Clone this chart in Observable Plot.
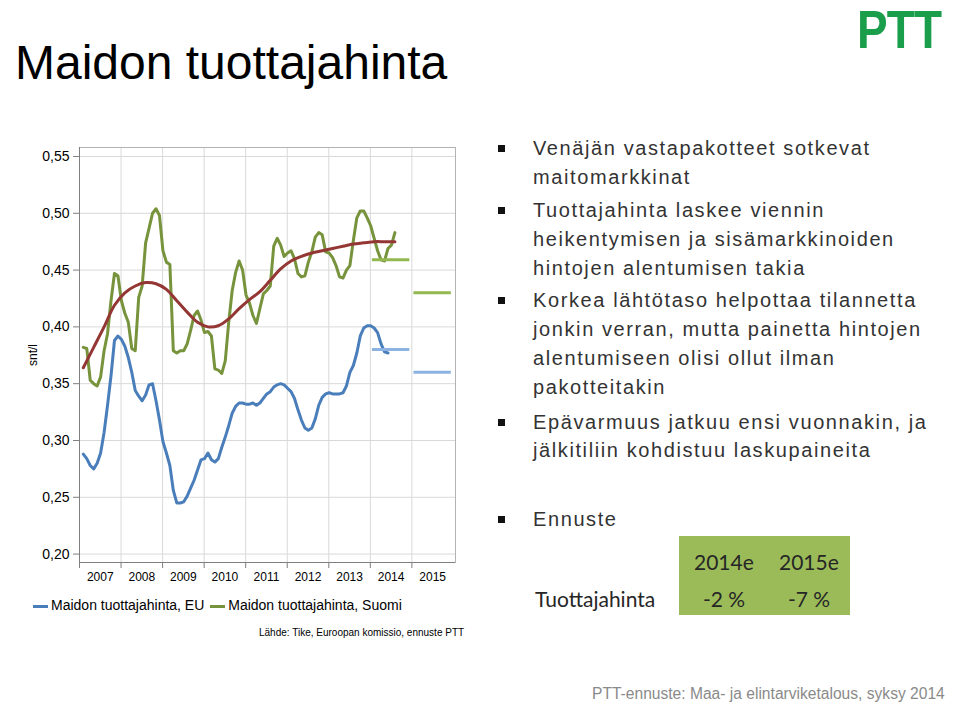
<!DOCTYPE html>
<html>
<head>
<meta charset="utf-8">
<script src="https://cdn.jsdelivr.net/npm/d3@7"></script>
<script src="https://cdn.jsdelivr.net/npm/@observablehq/plot@0.6"></script>
<style>
  body { margin: 0; width: 960px; height: 703px; position: relative; background: #fff; overflow: hidden;
         font-family: "Liberation Sans", Arial, sans-serif; color: #000; }
  .abs { position: absolute; white-space: nowrap; }
  .bl { position: absolute; white-space: nowrap; left: 533px; font-size: 20px; line-height: 20px; letter-spacing: 1.6px; color: #333; }
  .sq { position: absolute; left: 498px; width: 7px; height: 7px; background: #111; }
  .tb { position: absolute; white-space: nowrap; font-family: Lato, "Open Sans", sans-serif; font-size: 21px; line-height: 21px; color: #262626; }
  #chart { position: absolute; left: 0; top: 140px; }
</style>
</head>
<body>
<div class="abs" style="left:15px;top:39px;font-size:48px;line-height:48px;">Maidon tuottajahinta</div>
<div class="abs" style="left:857px;top:2px;font-size:54px;line-height:54px;font-weight:bold;color:#1b9e4b;transform:scaleX(0.85);transform-origin:left top;letter-spacing:-1px;">PTT</div>

<div class="sq" style="top:145px"></div>
<div class="bl" style="top:138px">Venäjän vastapakotteet sotkevat</div>
<div class="bl" style="top:167px">maitomarkkinat</div>
<div class="sq" style="top:207px"></div>
<div class="bl" style="top:200px">Tuottajahinta laskee viennin</div>
<div class="bl" style="top:229px">heikentymisen ja sisämarkkinoiden</div>
<div class="bl" style="top:258px">hintojen alentumisen takia</div>
<div class="sq" style="top:297px"></div>
<div class="bl" style="top:290px">Korkea lähtötaso helpottaa tilannetta</div>
<div class="bl" style="top:319px">jonkin verran, mutta painetta hintojen</div>
<div class="bl" style="top:348px">alentumiseen olisi ollut ilman</div>
<div class="bl" style="top:377px">pakotteitakin</div>
<div class="sq" style="top:419px"></div>
<div class="bl" style="top:412px">Epävarmuus jatkuu ensi vuonnakin, ja</div>
<div class="bl" style="top:440px">jälkitiliin kohdistuu laskupaineita</div>
<div class="sq" style="top:516px"></div>
<div class="bl" style="top:509px">Ennuste</div>

<div class="abs" style="left:679px;top:536px;width:171px;height:79px;background:#9bbb59;"></div>
<div class="tb" style="left:694px;top:551px;">2014e</div>
<div class="tb" style="left:779px;top:551px;">2015e</div>
<div class="tb" style="left:535px;top:588px;">Tuottajahinta</div>
<div class="tb" style="left:703px;top:588px;">-2 %</div>
<div class="tb" style="left:788px;top:588px;">-7 %</div>

<div id="chart"></div>
<div class="abs" style="left:22px;top:349px;font-size:12px;line-height:12px;transform:rotate(-90deg);transform-origin:center;">snt/l</div>

<div class="abs" style="left:33px;top:598px;font-size:14px;line-height:14px;">
  <span style="display:inline-block;width:15px;height:3px;background:#4a7ebb;vertical-align:middle;margin-right:3px;"></span>Maidon tuottajahinta, EU
  <span style="display:inline-block;width:15px;height:3px;background:#77933c;vertical-align:middle;margin:0 3px 0 2px;"></span>Maidon tuottajahinta, Suomi
</div>
<div class="abs" style="left:259px;top:628px;font-size:10px;line-height:10px;">Lähde: Tike, Euroopan komissio, ennuste PTT</div>
<div class="abs" style="left:592px;top:686px;font-size:15.6px;line-height:16px;color:#8a8a8a;">PTT-ennuste: Maa- ja elintarviketalous, syksy 2014</div>

<script>
// ---- Data (monthly, starting January 2007) ----
const startYear = 2007;
const fiPrice = [
  0.382,0.381,0.353,0.350,0.348,0.356,0.379,0.394,0.423,0.447,0.445,0.423,
  0.412,0.404,0.381,0.379,0.426,0.436,0.474,0.487,0.500,0.504,0.498,0.467,
  0.457,0.455,0.379,0.377,0.379,0.379,0.385,0.397,0.410,0.414,0.406,0.395,
  0.396,0.392,0.363,0.362,0.359,0.370,0.404,0.432,0.448,0.458,0.450,0.428,
  0.421,0.410,0.403,0.416,0.429,0.432,0.436,0.471,0.478,0.472,0.462,0.465,
  0.467,0.460,0.447,0.444,0.445,0.457,0.466,0.479,0.483,0.481,0.466,0.465,
  0.461,0.454,0.444,0.443,0.450,0.454,0.476,0.496,0.502,0.502,0.496,0.489,
  0.478,0.467,0.459,0.458,0.469,0.472,0.483
];
const euPrice = [
  0.288,0.284,0.278,0.275,0.280,0.289,0.307,0.331,0.357,0.388,0.392,0.389,
  0.383,0.373,0.360,0.344,0.339,0.335,0.340,0.349,0.350,0.335,0.318,0.299,
  0.289,0.278,0.256,0.245,0.245,0.246,0.251,0.258,0.265,0.274,0.283,0.284,
  0.289,0.283,0.281,0.284,0.294,0.303,0.313,0.324,0.330,0.333,0.333,0.332,
  0.332,0.333,0.331,0.333,0.337,0.341,0.343,0.347,0.349,0.350,0.349,0.346,
  0.343,0.337,0.327,0.318,0.311,0.309,0.311,0.319,0.331,0.338,0.341,0.342,
  0.341,0.341,0.341,0.342,0.348,0.360,0.366,0.377,0.392,0.399,0.401,0.401,
  0.399,0.395,0.385,0.378,0.377
];
// Trend of the Finnish price, read every third month
const trendMonth = [0,3,6,9,12,15,18,21,24,27,30,33,36,39,42,45,48,51,54,57,60,63,66,69,72,75,78,81,84,87,90];
const trendValue = [0.364,0.382,0.400,0.419,0.430,0.436,0.439,0.438,0.433,0.423,0.413,0.404,0.400,0.401,0.407,0.416,0.424,0.431,0.441,0.451,0.458,0.462,0.465,0.467,0.469,0.471,0.473,0.474,0.475,0.475,0.475];
// Forecasts
const forecastYears = [2014, 2015];
const fiForecast = [0.459, 0.430];
const euForecast = [0.380, 0.360];
// Axes
const yearLabels = ["2007","2008","2009","2010","2011","2012","2013","2014","2015"];
const yTicks = [0.20,0.25,0.30,0.35,0.40,0.45,0.50,0.55];

// ---- Build tables ----
const monthPos = m => startYear + (m + 1.1) / 12;
const fiData = fiPrice.map((v, m) => ({x: monthPos(m), y: v}));
const euData = euPrice.map((v, m) => ({x: monthPos(m), y: v}));
const trendData = trendMonth.map((m, i) => ({x: monthPos(m), y: trendValue[i]}));
const fiF = forecastYears.map((yr, i) => ({year: yr, y: fiForecast[i]}));
const euF = forecastYears.map((yr, i) => ({year: yr, y: euForecast[i]}));
const yearStarts = yearLabels.map(Number);
const yearMids = yearStarts.map(y => y + 0.5);

const chart = Plot.plot({
  width: 470,
  height: 450,
  marginLeft: 79,
  marginRight: 15,
  marginTop: 7,
  marginBottom: 28,
  x: {domain: [2007, 2016.05]},
  y: {domain: [0.1926, 0.5579]},
  style: {fontFamily: "'Liberation Sans', Arial, sans-serif", color: "#000", background: "transparent"},
  marks: [
    Plot.gridY(yTicks, {stroke: "#d9d9d9", strokeOpacity: 1}),
    Plot.gridX(yearStarts.slice(1), {stroke: "#d9d9d9", strokeOpacity: 1}),
    Plot.frame({stroke: "#b3b3b3"}),
    Plot.axisY(yTicks, {tickSize: 6, tickPadding: 4, fontSize: 14, stroke: "#7f7f7f",
      tickFormat: d => d.toFixed(2).replace(".", ","), label: null}),
    Plot.axisX(yearStarts, {tickSize: 6, tickFormat: () => "", stroke: "#7f7f7f", label: null}),
    Plot.axisX(yearMids, {tickSize: 0, tickPadding: 10, fontSize: 12,
      tickFormat: (d, i) => yearLabels[i], label: null}),
    Plot.ruleX([2007], {stroke: "#7f7f7f"}),
    Plot.ruleY([0.1926], {stroke: "#7f7f7f"}),
    Plot.line(euData, {x: "x", y: "y", stroke: "#4a7ebb", strokeWidth: 3}),
    Plot.line(fiData, {x: "x", y: "y", stroke: "#77933c", strokeWidth: 3}),
    Plot.line(trendData, {x: "x", y: "y", stroke: "#943634", strokeWidth: 3, curve: "catmull-rom"}),
    Plot.ruleY(fiF, {y: "y", x1: d => d.year + 0.05, x2: d => d.year + 0.95, stroke: "#92b84f", strokeWidth: 3}),
    Plot.ruleY(euF, {y: "y", x1: d => d.year + 0.05, x2: d => d.year + 0.95, stroke: "#8db3e2", strokeWidth: 3})
  ]
});
document.getElementById("chart").appendChild(chart);
</script>
</body>
</html>
